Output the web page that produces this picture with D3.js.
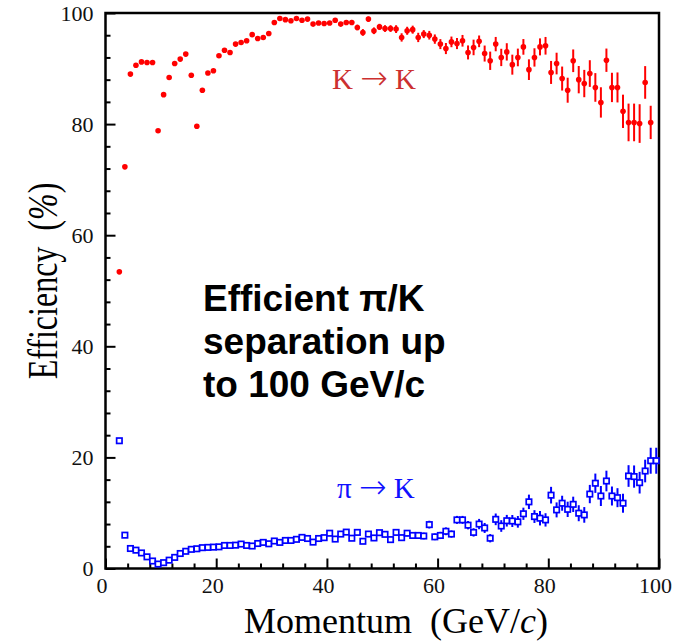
<!DOCTYPE html>
<html>
<head>
<meta charset="utf-8">
<script src="https://cdn.jsdelivr.net/npm/d3@7"></script>
<style>
	body { margin: 0; background: #fff; }
	svg { display: block; }
	.tick text { font-family: "Liberation Serif", "Times New Roman", serif; font-size: 22px; fill: #111; }
</style>
</head>
<body>
<div id="chart"></div>
<script>
// bin centres (GeV/c)
const momentum = [
	2.5, 3.5, 4.5, 5.5, 6.5, 7.5, 8.5, 9.5, 10.5, 11.5, 12.5, 13.5, 14.5, 15.5, 16.5, 17.5, 18.5, 19.5, 20.5, 21.5,
	22.5, 23.5, 24.5, 25.5, 26.5, 27.5, 28.5, 29.5, 30.5, 31.5, 32.5, 33.5, 34.5, 35.5, 36.5, 37.5, 38.5, 39.5, 40.5, 41.5,
	42.5, 43.5, 44.5, 45.5, 46.5, 47.5, 48.5, 49.5, 50.5, 51.5, 52.5, 53.5, 54.5, 55.5, 56.5, 57.5, 58.5, 59.5, 60.5, 61.5,
	62.5, 63.5, 64.5, 65.5, 66.5, 67.5, 68.5, 69.5, 70.5, 71.5, 72.5, 73.5, 74.5, 75.5, 76.5, 77.5, 78.5, 79.5, 80.5, 81.5,
	82.5, 83.5, 84.5, 85.5, 86.5, 87.5, 88.5, 89.5, 90.5, 91.5, 92.5, 93.5, 94.5, 95.5, 96.5, 97.5, 98.5, 99.5
];

// K -> K efficiency (%), one value per bin from 2.5 to 98.5
const kToK = [
	53.4, 72.3, 89.0, 90.6, 91.2, 91.1, 91.1, 78.8, 85.3, 88.4, 90.9, 91.7, 92.6, 88.8, 79.6, 86.1, 89.2, 89.6, 92.3, 93.3,
	92.9, 94.4, 94.7, 95.0, 96.1, 95.4, 95.6, 96.3, 98.3, 99.0, 98.8, 98.6, 99.0, 98.7, 98.9, 98.0, 98.2, 98.1, 98.2, 98.7,
	98.0, 98.3, 98.3, 97.4, 96.5, 98.9, 96.8, 97.5, 97.2, 97.2, 97.1, 95.6, 96.8, 97.0, 95.6, 96.2, 96.0, 95.3, 94.4, 93.6,
	94.8, 94.5, 95.0, 92.9, 93.8, 94.9, 92.7, 91.4, 94.4, 92.0, 93.0, 90.7, 92.0, 93.9, 89.8, 92.0, 93.9, 94.1, 89.3, 90.9,
	88.2, 86.1, 91.4, 88.0, 87.3, 89.1, 86.6, 83.9, 91.5, 86.6, 86.6, 82.3, 80.3, 80.3, 80.1, 87.5, 80.3
];
const kToKErr = [
	0.2, 0.2, 0.2, 0.2, 0.2, 0.2, 0.2, 0.25, 0.25, 0.25, 0.25, 0.25, 0.25, 0.25, 0.25, 0.25, 0.25, 0.25, 0.25, 0.25,
	0.25, 0.25, 0.25, 0.25, 0.25, 0.3, 0.3, 0.3, 0.3, 0.3, 0.3, 0.3, 0.3, 0.3, 0.3, 0.35, 0.35, 0.35, 0.35, 0.4,
	0.4, 0.4, 0.45, 0.5, 0.6, 0.45, 0.6, 0.55, 0.6, 0.6, 0.7, 0.75, 0.72, 0.72, 0.84, 0.72, 0.78, 0.84, 0.9, 1.0,
	0.96, 1.0, 1.05, 1.26, 1.4, 1.05, 1.44, 1.65, 1.29, 1.56, 1.56, 1.8, 1.59, 1.41, 1.86, 1.65, 1.53, 1.59, 2.07, 1.95,
	2.16, 2.25, 2.04, 2.46, 2.46, 2.4, 2.58, 2.73, 2.1, 2.64, 2.7, 3.0, 3.39, 3.39, 3.48, 2.94, 3.0
];

// pi -> K misidentification (%), one value per bin from 2.5 to 99.5
const piToK = [
	23.0, 6.0, 3.6, 3.3, 2.8, 2.1, 1.35, 0.8, 1.05, 1.5, 2.0, 2.7, 3.1, 3.45, 3.55, 3.75, 3.8, 3.85, 3.9, 4.15,
	4.15, 4.2, 4.4, 4.15, 4.05, 4.5, 4.7, 4.45, 4.95, 4.7, 5.05, 5.05, 5.25, 5.6, 5.4, 4.75, 5.4, 5.55, 6.35, 5.3,
	6.2, 6.55, 5.45, 6.5, 4.9, 6.2, 5.5, 6.45, 6.15, 5.2, 6.5, 5.55, 6.35, 5.95, 5.95, 5.85, 7.9, 5.7, 5.95, 6.7,
	6.2, 8.75, 8.75, 7.8, 6.5, 8.0, 7.3, 5.45, 8.85, 7.65, 8.6, 8.55, 8.4, 9.85, 12.0, 9.35, 9.05, 8.75, 13.2, 10.55,
	11.75, 10.65, 11.55, 9.95, 9.65, 13.4, 15.35, 13.05, 15.75, 13.05, 12.75, 11.75, 16.65, 16.55, 15.45, 17.55, 19.4, 19.4
];
const piToKErr = [
	0.3, 0.25, 0.2, 0.2, 0.2, 0.2, 0.2, 0.2, 0.2, 0.2, 0.2, 0.2, 0.2, 0.2, 0.2, 0.2, 0.2, 0.2, 0.25, 0.25,
	0.25, 0.25, 0.25, 0.25, 0.25, 0.25, 0.3, 0.3, 0.3, 0.3, 0.3, 0.3, 0.3, 0.3, 0.3, 0.35, 0.35, 0.35, 0.35, 0.35,
	0.4, 0.4, 0.4, 0.4, 0.4, 0.45, 0.45, 0.45, 0.45, 0.5, 0.5, 0.55, 0.55, 0.55, 0.6, 0.6, 0.7, 0.6, 0.65, 0.7,
	0.65, 0.72, 0.72, 0.75, 0.75, 0.93, 0.9, 0.75, 1.05, 1.05, 1.05, 1.08, 1.05, 1.1, 1.3, 1.15, 1.3, 1.2, 1.5, 1.35,
	1.35, 1.38, 1.38, 1.44, 1.41, 1.65, 1.74, 1.8, 1.86, 1.71, 1.71, 1.71, 1.95, 2.0, 1.95, 2.04, 2.34, 2.34
];

const xTicks = [0, 20, 40, 60, 80, 100];
const yTicks = [0, 20, 40, 60, 80, 100];
const minorTicks = [4, 8, 12, 16, 24, 28, 32, 36, 44, 48, 52, 56, 64, 68, 72, 76, 84, 88, 92, 96];

const W = 694, H = 644;
const plot = { left: 105.5, right: 659, top: 13, bottom: 568.5 };

const svg = d3.select("#chart").append("svg")
	.attr("width", W)
	.attr("height", H);

const x = d3.scaleLinear().domain([0, 100]).range([plot.left, plot.right]);
const y = d3.scaleLinear().domain([0, 100]).range([plot.bottom, plot.top]);

const kData = kToK.map((v, i) => ({ p: momentum[i], v: v, e: kToKErr[i] }));
const piData = piToK.map((v, i) => ({ p: momentum[i], v: v, e: piToKErr[i] }));

// axes: ticks point into the frame
const gx = svg.append("g")
	.attr("transform", `translate(0,${plot.bottom})`)
	.call(d3.axisBottom(x).tickValues(xTicks).tickSizeInner(-10).tickSizeOuter(0).tickPadding(9));
svg.append("g")
	.attr("transform", `translate(0,${plot.bottom})`)
	.call(d3.axisBottom(x).tickValues(minorTicks).tickSizeInner(-5).tickSizeOuter(0).tickFormat(""));
const gy = svg.append("g")
	.attr("transform", `translate(${plot.left},0)`)
	.call(d3.axisLeft(y).tickValues(yTicks).tickSizeInner(-10).tickSizeOuter(0).tickPadding(12));
svg.append("g")
	.attr("transform", `translate(${plot.left},0)`)
	.call(d3.axisLeft(y).tickValues(minorTicks).tickSizeInner(-5).tickSizeOuter(0).tickFormat(""));

svg.selectAll(".domain").remove();
svg.selectAll(".tick line").attr("stroke", "#000").attr("stroke-width", 2);
gx.selectAll(".tick text").attr("dx", -4);

// frame
svg.append("rect")
	.attr("x", plot.left)
	.attr("y", plot.top)
	.attr("width", plot.right - plot.left)
	.attr("height", plot.bottom - plot.top)
	.attr("fill", "none")
	.attr("stroke", "#000")
	.attr("stroke-width", 2.5);

// K -> K : error bars + filled dots
svg.append("g").selectAll("line").data(kData).enter()
	.append("line")
	.attr("x1", d => x(d.p)).attr("x2", d => x(d.p))
	.attr("y1", d => y(d.v - d.e)).attr("y2", d => y(d.v + d.e))
	.attr("stroke", "#ff0000")
	.attr("stroke-width", 2);
svg.append("g").selectAll("circle").data(kData).enter()
	.append("circle")
	.attr("cx", d => x(d.p))
	.attr("cy", d => y(d.v))
	.attr("r", 2.8)
	.attr("fill", "#ff0000");

// pi -> K : error bars + open squares
svg.append("g").selectAll("line").data(piData).enter()
	.append("line")
	.attr("x1", d => x(d.p)).attr("x2", d => x(d.p))
	.attr("y1", d => y(d.v - d.e)).attr("y2", d => y(d.v + d.e))
	.attr("stroke", "#0000ff")
	.attr("stroke-width", 2);
svg.append("g").selectAll("rect").data(piData).enter()
	.append("rect")
	.attr("x", d => x(d.p) - 2.7)
	.attr("y", d => y(d.v) - 2.7)
	.attr("width", 5.4)
	.attr("height", 5.4)
	.attr("fill", "#fff")
	.attr("stroke", "#0000ff")
	.attr("stroke-width", 1.7);

// series labels
function seriesLabel(px, py, first, colour) {
	const t = svg.append("text")
		.attr("x", px).attr("y", py)
		.attr("font-family", "Liberation Serif, serif")
		.attr("font-size", 29)
		.attr("fill", colour);
	t.append("tspan").text(first + "\u00a0");
	t.append("tspan")
		.attr("font-family", "DejaVu Sans, sans-serif")
		.attr("font-weight", 200)
		.attr("font-size", 33)
		.text("\u2192");
	t.append("tspan").text("\u00a0K");
}
seriesLabel(332, 89, "K", "#cc3030");
seriesLabel(337, 498, "\u03c0", "#1010ff");

// note
const note = svg.append("text")
	.attr("font-family", "Liberation Sans, Arial, sans-serif")
	.attr("font-weight", "bold")
	.attr("font-size", 37)
	.attr("fill", "#000");
["Efficient \u03c0/K", "separation up", "to 100 GeV/c"].forEach((t, i) => {
	note.append("tspan").attr("x", 203).attr("y", 311 + i * 43).text(t);
});

// axis titles
const xt = svg.append("text")
	.attr("x", 396).attr("y", 633)
	.attr("text-anchor", "middle")
	.attr("font-family", "Liberation Serif, serif")
	.attr("font-size", 36)
	.attr("fill", "#000");
xt.append("tspan").text("Momentum\u00a0\u00a0(GeV/");
xt.append("tspan").attr("font-style", "italic").text("c");
xt.append("tspan").text(")");

const yt = svg.append("text")
	.attr("transform", "translate(57,281) rotate(-90) scale(1,1.3)")
	.attr("text-anchor", "middle")
	.attr("font-family", "Liberation Serif, serif")
	.attr("font-size", 32)
	.attr("fill", "#000");
yt.append("tspan").text("Efficiency\u00a0\u00a0(");
yt.append("tspan").attr("font-style", "italic").text("%");
yt.append("tspan").text(")");
</script>
</body>
</html>
